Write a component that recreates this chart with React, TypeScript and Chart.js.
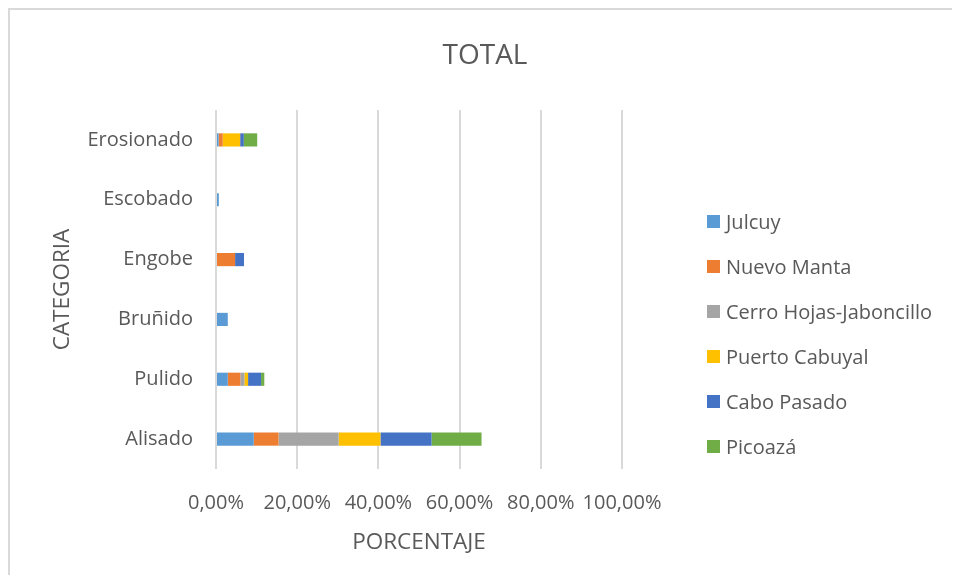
import React, { useEffect, useRef } from "react";
import { Chart, registerables } from "chart.js";

Chart.register(...registerables);

// Categories, top to bottom
const categories = ["Erosionado", "Escobado", "Engobe", "Bruñido", "Pulido", "Alisado"];

// Share of each site per category (percent)
const julcuy = [0.65, 0.7, 0, 2.9, 2.9, 9.3];
const nuevoManta = [1.0, 0, 4.7, 0, 3.1, 6.1];
const cerroHojas = [0, 0, 0, 0, 1.0, 14.8];
const puertoCabuyal = [4.3, 0, 0, 0, 0.9, 10.3];
const caboPasado = [0.9, 0, 2.2, 0, 3.2, 12.6];
const picoaza = [3.3, 0, 0, 0, 0.8, 12.3];

const seriesNames = ["Julcuy", "Nuevo Manta", "Cerro Hojas-Jaboncillo", "Puerto Cabuyal", "Cabo Pasado", "Picoazá"];
const seriesColors = ["#5B9BD5", "#ED7D31", "#A5A5A5", "#FFC000", "#4472C4", "#70AD47"];
const seriesValues = [julcuy, nuevoManta, cerroHojas, puertoCabuyal, caboPasado, picoaza];

const xTicks = [0, 20, 40, 60, 80, 100];

const FONT = "'Open Sans', 'DejaVu Sans', sans-serif";
const TEXT = "#595959";
const GRID = "#D9D9D9";

// Legend drawn as a column to the right of the plot
const legendColumn = {
  id: "legendColumn",
  afterDraw(chart: any) {
    const { ctx } = chart;
    const boxX = 697;
    const textX = 716;
    const firstY = 211.5;
    const step = 45;
    const box = 13;
    ctx.save();
    ctx.font = `20px ${FONT}`;
    ctx.textBaseline = "middle";
    ctx.textAlign = "left";
    chart.data.datasets.forEach((ds: any, i: number) => {
      const y = firstY + i * step;
      ctx.fillStyle = ds.backgroundColor;
      ctx.fillRect(boxX, y - box / 2, box, box);
      ctx.fillStyle = TEXT;
      ctx.fillText(ds.label, textX, y + 1.4);
    });
    ctx.restore();
  },
};

function formatPct(v: number) {
  return v.toFixed(2).replace(".", ",") + "%";
}

export default function App() {
  const canvasRef = useRef<HTMLCanvasElement | null>(null);

  useEffect(() => {
    const canvas = canvasRef.current;
    if (!canvas) return;
    const chart = new Chart(canvas, {
      type: "bar",
      data: {
        labels: categories,
        datasets: seriesNames.map((name, i) => ({
          label: name,
          data: seriesValues[i],
          backgroundColor: seriesColors[i],
          borderWidth: 0,
          categoryPercentage: 0.22,
          barPercentage: 1,
        })),
      },
      options: {
        indexAxis: "y",
        responsive: false,
        animation: false,
        layout: { padding: 0 },
        plugins: {
          legend: { display: false },
          tooltip: { enabled: false },
          title: {
            display: true,
            text: "TOTAL",
            color: TEXT,
            font: { family: FONT, size: 28, weight: "normal" },
            padding: { top: 29, bottom: 37.4 },
          },
        },
        scales: {
          x: {
            stacked: true,
            min: 0,
            max: 100,
            afterFit: (s: any) => {
              s.height = 114;
              // room on the right for the legend column
              s.paddingRight = 338;
            },
            afterBuildTicks: (s: any) => {
              s.ticks = xTicks.map((v) => ({ value: v }));
            },
            grid: { color: GRID, lineWidth: 2, drawTicks: false },
            border: { display: false },
            ticks: {
              padding: 22,
              color: TEXT,
              font: { family: FONT, size: 20 },
              maxRotation: 0,
              autoSkip: false,
              callback: (v: any) => formatPct(Number(v)),
            },
            title: {
              display: true,
              text: "PORCENTAJE",
              color: TEXT,
              font: { family: FONT, size: 22.5 },
              padding: { top: 0, bottom: 27.4 },
            },
          },
          y: {
            stacked: true,
            afterFit: (s: any) => {
              s.width = 206;
            },
            grid: { display: false, drawTicks: false },
            border: { display: false },
            ticks: {
              padding: 23,
              color: TEXT,
              font: { family: FONT, size: 20 },
            },
            title: {
              display: true,
              text: "CATEGORIA",
              color: TEXT,
              font: { family: FONT, size: 22.5 },
              padding: { top: 39.1, bottom: 0 },
            },
          },
        },
      },
      plugins: [legendColumn],
    });
    return () => chart.destroy();
  }, []);

  return (
    <div style={{ width: 944, height: 567, overflow: "hidden" }}>
      <div
        style={{
          width: 950,
          height: 573,
          borderTop: `2px solid ${GRID}`,
          borderLeft: `2px solid ${GRID}`,
          background: "#fff",
        }}
      >
        <canvas ref={canvasRef} width={950} height={573} style={{ display: "block" }} />
      </div>
    </div>
  );
}
